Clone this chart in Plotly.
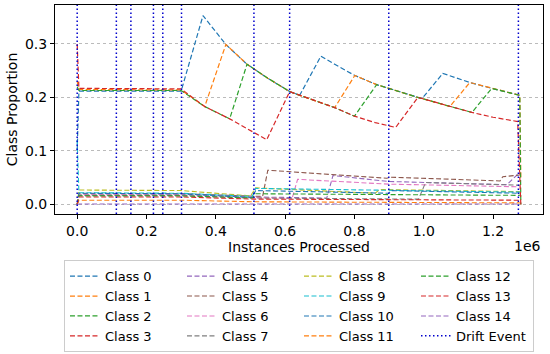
import plotly.graph_objects as go

# ---- data (x in instances processed, y = class proportion) ----
class_names = [f"Class {i}" for i in range(15)]

class_x = {
    0: [0, 5000, 300000, 363000, 429000, 490000, 550000, 613000, 642000, 703000, 743000, 801000, 864000, 899000, 940000, 983000, 995000, 1055000, 1133000, 1196000, 1277000],
    1: [0, 5000, 300000, 368000, 429000, 490000, 550000, 613000, 642000, 700000, 743000, 801000, 864000, 899000, 940000, 983000, 995000, 1075000, 1133000, 1196000, 1277000, 1280000],
    2: [0, 5000, 300000, 368000, 440000, 490000, 550000, 613000, 642000, 700000, 743000, 800000, 864000, 899000, 940000, 983000, 995000, 1075000, 1139000, 1196000, 1277000, 1280000],
    3: [0, 5000, 300000, 368000, 440000, 490000, 547000, 613000, 642000, 700000, 743000, 800000, 860000, 919000, 983000, 995000, 1075000, 1139000, 1200000, 1271000, 1280000],
    4: [0, 5000, 300000, 510000, 720000, 738000, 899000, 1240000, 1277000],
    5: [0, 5000, 300000, 510000, 535000, 550000, 893000, 905000, 1220000, 1228000, 1277000],
    6: [0, 5000, 300000, 510000, 620000, 636000, 899000, 1277000],
    7: [0, 5000, 300000, 510000, 985000, 1005000, 1277000],
    8: [0, 5000, 300000, 500000, 515000, 860000, 873000, 1277000],
    9: [0, 5000, 300000, 505000, 515000, 1277000],
    10: [0, 5000, 300000, 505000, 515000, 899000, 905000, 1277000],
    11: [0, 5000, 300000, 510000, 1277000],
    12: [0, 5000, 300000, 505000, 515000, 1277000],
    13: [0, 5000, 300000, 510000, 1277000],
    14: [0, 5000, 300000, 1277000],
}
class_y = {
    0: [0.10, 0.212, 0.212, 0.353, 0.299, 0.262, 0.236, 0.211, 0.204, 0.277, 0.262, 0.241, 0.224, 0.217, 0.208, 0.200, 0.198, 0.245, 0.228, 0.217, 0.204],
    1: [0.23, 0.215, 0.214, 0.183, 0.299, 0.262, 0.236, 0.211, 0.204, 0.191, 0.181, 0.241, 0.224, 0.217, 0.208, 0.200, 0.198, 0.183, 0.228, 0.217, 0.204, 0.05],
    2: [0.22, 0.213, 0.213, 0.183, 0.160, 0.262, 0.236, 0.211, 0.204, 0.191, 0.181, 0.165, 0.224, 0.217, 0.208, 0.200, 0.198, 0.183, 0.172, 0.217, 0.204, 0.0],
    3: [0.30, 0.217, 0.216, 0.183, 0.160, 0.142, 0.121, 0.211, 0.204, 0.191, 0.181, 0.165, 0.153, 0.144, 0.200, 0.198, 0.183, 0.172, 0.163, 0.155, 0.0],
    4: [0.0, 0.018, 0.018, 0.014, 0.012, 0.054, 0.043, 0.037, 0.060],
    5: [0.0, 0.020, 0.020, 0.016, 0.015, 0.064, 0.049, 0.051, 0.044, 0.052, 0.055],
    6: [0.0, 0.019, 0.019, 0.013, 0.011, 0.047, 0.038, 0.033],
    7: [0.0, 0.017, 0.017, 0.012, 0.010, 0.041, 0.036],
    8: [0.0, 0.027, 0.026, 0.016, 0.031, 0.021, 0.028, 0.024],
    9: [0.12, 0.022, 0.021, 0.015, 0.030, 0.023],
    10: [0.0, 0.021, 0.020, 0.013, 0.026, 0.021, 0.026, 0.021],
    11: [0.0, 0.008, 0.008, 0.005, 0.003],
    12: [0.0, 0.016, 0.016, 0.012, 0.020, 0.017],
    13: [0.0, 0.014, 0.014, 0.010, 0.008],
    14: [0.0, 0.001, 0.001, 0.001],
}
drift_events = [0, 113000, 155000, 220000, 247000, 301000, 510000, 613000, 899000, 1273000]

x_tick_vals = [0, 200000, 400000, 600000, 800000, 1000000, 1200000]
x_tick_text = ["0.0", "0.2", "0.4", "0.6", "0.8", "1.0", "1.2"]

colors = ["#1f77b4", "#ff7f0e", "#2ca02c", "#d62728", "#9467bd",
          "#8c564b", "#e377c2", "#7f7f7f", "#bcbd22", "#17becf"]

FONT = "DejaVu Sans"
FS = 14
LFS = 13
fig = go.Figure()

# legend order: matplotlib fills column-major with 4 rows
def rank_for(idx):
    col, row = divmod(idx, 4)
    return row * 4 + col + 1

for i in range(15):
    fig.add_trace(go.Scatter(
        x=class_x[i], y=class_y[i], mode="lines", name=class_names[i],
        line=dict(color=colors[i % 10], width=1.2 if i < 4 else 1.1, dash="5px,2.5px"),
        legendrank=rank_for(i), showlegend=True,
    ))

for d in drift_events:
    fig.add_vline(x=d, line=dict(color="#0000cc", width=1.5, dash="1.5px,2.5px"))

fig.add_trace(go.Scatter(
    x=[None], y=[None], mode="lines", name="Drift Event",
    line=dict(color="#0000cc", width=1.5, dash="1.5px,2.5px"),
    legendrank=rank_for(15), showlegend=True,
))

fig.update_layout(
    width=550, height=354,
    margin=dict(l=55, r=7, t=5, b=140, autoexpand=False),
    paper_bgcolor="white", plot_bgcolor="white",
    font=dict(family=FONT, size=FS, color="black"),
    showlegend=True,
    legend=dict(
        orientation="h", xref="container", yref="container",
        x=0.5436, xanchor="center", y=0.265, yanchor="top",
        bordercolor="#cccccc", borderwidth=1,
        entrywidth=72, entrywidthmode="pixels",
        font=dict(family=FONT, size=LFS), traceorder="normal",
        itemwidth=30,
    ),
    xaxis=dict(
        range=[-64000, 1344000], tickvals=x_tick_vals, ticktext=x_tick_text,
        showgrid=False, zeroline=False, showline=True, linecolor="black",
        linewidth=1, mirror=True, ticks="outside", ticklen=4, tickcolor="black",
        automargin=False,
        title=dict(text="Instances Processed", font=dict(size=FS), standoff=2),
    ),
    yaxis=dict(
        range=[-0.0178, 0.3728], tickvals=[0.0, 0.1, 0.2, 0.3], tickformat=".1f",
        showgrid=True, gridcolor="#bbbbbb", griddash="dot", gridwidth=0.8,
        zeroline=False, showline=True, linecolor="black", linewidth=1,
        mirror=True, ticks="outside", ticklen=4, tickcolor="black",
        automargin=False,
        title=dict(text="Class Proportion", font=dict(size=FS), standoff=4),
    ),
    annotations=[dict(text="1e6", xref="paper", yref="paper", x=1.0, y=-0.155,
                      xanchor="right", yanchor="middle", showarrow=False,
                      font=dict(size=FS))],
)

fig.write_html("out.html", config={"displayModeBar": False},
               post_script="document.body.style.margin='0px';")
